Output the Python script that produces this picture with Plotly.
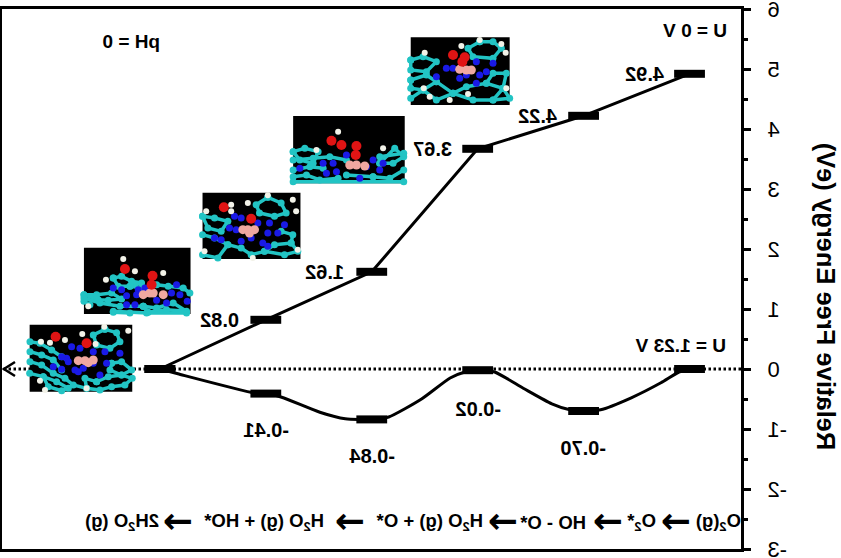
import plotly.graph_objects as go

STEP_INDEX = [0, 1, 2, 3, 4, 5]
U0_ENERGY = [4.92, 4.22, 3.67, 1.62, 0.82, 0.0]
U123_ENERGY = [0.0, -0.70, -0.02, -0.84, -0.41, 0.0]
U0_LABELS = ["4.92", "4.22", "3.67", "1.62", "0.82"]
U123_LABELS = ["-0.70", "-0.02", "-0.84", "-0.41"]

# Curve through the U = 1.23 V levels
CURVE_X = [0, 0.10, 0.27, 0.55, 0.84, 1, 1.13, 1.30, 1.57, 1.84, 2, 2.12, 2.26, 2.53,
           2.84, 3, 3.25, 3.49, 3.85, 3.99, 4.105, 4.83, 5]
CURVE_Y = [0, -0.05, -0.23, -0.48, -0.68, -0.70, -0.68, -0.58, -0.32, -0.05, -0.02, -0.05,
           -0.15, -0.50, -0.80, -0.84, -0.83, -0.72, -0.47, -0.41, -0.40, -0.08, 0]

Y_TICKS = [-3, -2, -1, 0, 1, 2, 3, 4, 5, 6]
Y_TICK_TEXT = ["-3", "-2", "-1", "0", "1", "2", "3", "4", "5", "6"]
Y_TITLE = "Relative Free Energy (eV)"
REACTION_TEXT = ["O<sub>2</sub>(g)", "O<sub>2</sub>*", "HO - O*", "H<sub>2</sub>O (g) + O*",
                 "H<sub>2</sub>O (g) + HO*", "2H<sub>2</sub>O (g)"]
REACTION_TEXT_PX = [719, 641, 553, 430, 264, 122]
REACTION_ARROW_PX = [676, 608, 503, 350, 178]

MOLECULES = [
    dict(o=(25, 320), s=3, rect=(14, 14, 322, 215),
         teal=[[(240,28),(205,45),(215,75),(255,85),(285,65),(275,38),(240,28)],
               [(15,65),(45,70),(80,90),(110,110)],
               [(15,95),(50,105),(85,120),(110,150)],
               [(15,125),(50,135),(85,160),(120,175),(145,195),(185,205)],
               [(14,160),(55,170),(95,185),(130,205),(110,212),(70,200),(55,170)],
               [(215,185),(250,170),(290,165),(322,175),(300,195),(260,200),(225,210),(185,205),(180,175),(215,185)],
               [(260,130),(290,125),(320,150),(290,165),(255,150),(260,130)]],
         blue=[(140,80),(165,85),(205,95),(240,95),(285,100),(125,115),(110,110),(85,140),(110,148),
               (150,150),(175,145),(160,155),(205,130),(245,130),(225,165),(130,125)],
         pink=[(160,122),(180,122),(205,120),(190,128)],
         red=[(92,50),(185,70)],
         white=[(75,68),(120,60),(172,42),(212,72),(45,182),(185,205),(238,20),(310,32),(48,65),(60,210)]),
    dict(o=(80, 243), s=3, rect=(12, 14, 332, 213),
         teal=[[(100,105),(125,100),(155,115),(185,120),(150,130),(115,130),(100,105)],
               [(12,155),(50,155),(95,150),(125,168),(85,172),(55,170),(12,155)],
               [(12,175),(30,185)], [(100,208),(150,210)],
               [(230,125),(265,130),(310,135),(330,150)],
               [(190,190),(230,195),(280,180),(320,205),(260,200),(205,208),(190,190)],
               [(12,165),(60,180),(120,190),(190,190)], [(150,130),(190,135)],
               [(100,205),(200,210),(320,210)]],
         blue=[(100,135),(125,140),(175,140),(290,125),(140,158),(170,155),(140,185),(165,185),
               (230,172),(260,180),(275,150),(300,155),(322,175),(195,135)],
         pink=[(190,155),(210,150),(250,155),(220,150)],
         red=[(135,78),(218,98),(215,125)],
         white=[(130,48),(165,85),(78,110),(250,90),(25,190)]),
    dict(o=(198, 188), s=3, rect=(14, 14, 308, 213),
         teal=[[(210,28),(175,50),(185,75),(230,85),(265,75),(250,45),(210,28)],
               [(14,85),(50,90),(90,100),(70,130),(30,120),(14,85)],
               [(14,140),(50,150),(90,170),(130,180),(160,200),(200,190),(230,170),(280,165),(300,190),(260,200),(200,190)],
               [(14,200),(60,210),(90,170)], [(250,130),(285,140),(280,165)]],
         blue=[(110,85),(130,90),(95,120),(115,125),(50,150),(70,155),(130,160),(160,150),(180,105),
               (215,105),(260,110),(210,135),(240,135),(195,165),(210,175)],
         pink=[(135,125),(150,125),(170,125),(155,135)],
         red=[(78,58),(160,92)],
         white=[(25,70),(100,50),(100,70),(150,45),(210,22),(285,35),(295,70),(20,190),(300,185),(165,210)]),
    dict(o=(280, 20), s=3, rect=(40, 288, 375, 490),
         teal=[[(40,395),(75,385),(115,395),(100,430),(60,420),(40,395)],
               [(40,470),(80,465),(120,480),(175,475)],
               [(300,430),(345,385),(372,410),(340,430),(300,430)],
               [(280,470),(330,475),(372,450)],
               [(40,420),(100,415),(150,410),(200,420)], [(40,450),(90,440),(130,445)],
               [(200,465),(280,470)], [(300,410),(372,400)], [(40,485),(372,485)]],
         blue=[(60,445),(130,430),(160,430),(200,405),(280,420),(310,430),(140,460),(170,455),
               (240,475),(260,440),(300,450)],
         pink=[(210,435),(230,435),(255,438)],
         red=[(155,362),(185,375),(230,378),(228,405)],
         white=[(175,335),(110,390),(310,385)]),
    dict(o=(280, 20), s=3, rect=(393, 52, 690, 255),
         teal=[[(600,65),(565,85),(580,110),(640,115),(665,85),(640,65),(600,65)],
               [(393,120),(430,110),(470,125),(440,155),(393,150),(393,120)],
               [(393,180),(440,165),(470,185),(430,210),(393,205),(393,180)],
               [(430,210),(470,240),(520,220),(470,185)],
               [(520,220),(560,200),(620,190),(670,205),(640,240),(580,240),(520,220)],
               [(620,190),(640,160),(680,160),(670,205)],
               [(393,235),(430,210)], [(640,240),(690,235),(670,205)]],
         blue=[(500,145),(520,145),(470,170),(540,175),(590,125),(640,130),(620,155),(590,190),(560,165),(600,165)],
         pink=[(540,148),(560,150),(575,150)],
         red=[(520,105),(555,112),(548,125)],
         white=[(545,78),(600,60),(665,72),(678,98),(435,98),(432,205),(450,230),(510,240),(565,222),(680,205)]),
]

# The source picture is a left-right mirror image: the chart is built normally and the
# page is flipped at the end. These helpers go from reference pixels to data units.
def dx(px):
    return (690 - px) / 106.0

def dy(py):
    return (369 - py) / 60.0

X_RANGE = [dx(741.5), dx(2)]
Y_RANGE = [-3, 6]
FONT = "Liberation Sans, Arial, sans-serif"

fig = go.Figure()

fig.add_trace(go.Scatter(x=X_RANGE, y=[0, 0], mode="lines",
                         line=dict(color="black", width=3, dash="2.5px,2.5px")))
fig.add_trace(go.Scatter(x=[dx(15), dx(4), dx(15)], y=[dy(362), dy(369), dy(376)], mode="lines",
                         line=dict(color="black", width=2.5)))

def mx(m, p):
    return dx(m["o"][0] + p[0] / m["s"])

def my(m, p):
    return dy(m["o"][1] + p[1] / m["s"])

for m in MOLECULES:
    x0, y0, x1, y1 = m["rect"]
    corners = [(x0, y0), (x1, y0), (x1, y1), (x0, y1), (x0, y0)]
    fig.add_trace(go.Scatter(x=[mx(m, p) for p in corners], y=[my(m, p) for p in corners],
                             mode="lines", fill="toself", fillcolor="black",
                             line=dict(color="black", width=0)))
    for path in m["teal"]:
        fig.add_trace(go.Scatter(x=[mx(m, p) for p in path], y=[my(m, p) for p in path],
                                 mode="lines+markers", line=dict(color="#22c4c4", width=3.5),
                                 marker=dict(color="#22c4c4", size=7)))
    for key, color, size in [("blue", "#1a1ae6", 7), ("pink", "#f0a8a0", 9),
                             ("red", "#e01414", 10), ("white", "#f2f2e8", 6)]:
        pts = m[key]
        fig.add_trace(go.Scatter(x=[mx(m, p) for p in pts], y=[my(m, p) for p in pts],
                                 mode="markers", marker=dict(color=color, size=size)))

fig.add_trace(go.Scatter(x=STEP_INDEX, y=U0_ENERGY, mode="lines",
                         line=dict(color="black", width=3)))
fig.add_trace(go.Scatter(x=CURVE_X, y=CURVE_Y, mode="lines",
                         line=dict(color="black", width=3, shape="spline", smoothing=0.6)))

for energy in (U0_ENERGY, U123_ENERGY):
    fig.add_trace(go.Scatter(x=STEP_INDEX, y=energy, mode="markers",
                             marker=dict(symbol="line-ew", size=22, color="black",
                                         line=dict(color="black", width=8))))

def note(text, px, py, size=20, family=FONT):
    fig.add_annotation(x=dx(px), y=dy(py), text=f"<b>{text}</b>",
                       showarrow=False, xanchor="center", yanchor="middle",
                       font=dict(family=family, size=size, color="black"))

for text, px, py in zip(U0_LABELS, [645, 538, 433, 325, 220], [74, 116, 149, 272, 320]):
    note(text, px, py)
for text, px, py in zip(U123_LABELS, [583, 478, 372, 266], [448, 409, 456, 430]):
    note(text, px, py)
note("U = 1.23 V", 681, 345, 19)
note("U = 0 V", 695, 30, 19)
note("pH = 0", 131, 41, 19)
for text, px in zip(REACTION_TEXT, REACTION_TEXT_PX):
    note(text, px, 522, 18.5)
for px in REACTION_ARROW_PX:
    note("\u2192", px, 520, 36, "DejaVu Sans, sans-serif")

fig.add_annotation(xref="paper", yref="y", x=-0.1147, y=dy(296), text=f"<b>{Y_TITLE}</b>",
                   textangle=-90, showarrow=False, xanchor="center", yanchor="middle",
                   font=dict(family=FONT, size=25.5, color="black"))

fig.update_layout(
    width=841, height=558, showlegend=False,
    margin=dict(l=99.5, r=2, t=9, b=9, pad=0),
    paper_bgcolor="white", plot_bgcolor="white",
    xaxis=dict(range=X_RANGE, showgrid=False, zeroline=False, showticklabels=False, ticks="",
               automargin=False,
               showline=True, linecolor="black", linewidth=3, mirror=True),
    yaxis=dict(range=Y_RANGE, tickvals=Y_TICKS, ticktext=Y_TICK_TEXT, showgrid=False, zeroline=False,
               automargin=False,
               showline=True, linecolor="black", linewidth=3, mirror=True,
               ticks="outside", ticklen=7, tickwidth=2.5, tickcolor="black", ticklabelstandoff=12,
               ticklabeloverflow="allow",
               tickfont=dict(family=FONT, size=22, color="black"),
               minor=dict(dtick=0.5, tick0=0, ticks="outside", ticklen=4, tickwidth=2.5, tickcolor="black")),
)

flip = ("document.body.style.margin='0';document.body.style.overflow='hidden';"
        "var g=document.getElementById('{plot_id}');"
        "g.style.transform='scaleX(-1)';g.style.transformOrigin='420.5px 0';")
fig.write_html("out.html", config=dict(displayModeBar=False), post_script=flip)
